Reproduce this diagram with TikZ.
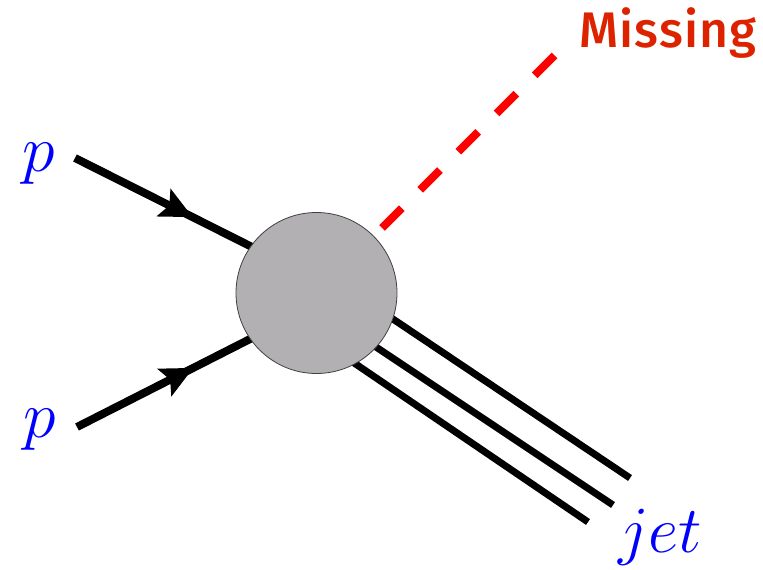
\RequirePackage{fix-cm}
\documentclass[tikz,border=0pt]{standalone}
\usepackage{fontspec}
\newfontfamily\missfont{Fira Sans Medium}
\usetikzlibrary{arrows.meta,decorations.markings}

\definecolor{missred}{RGB}{221,34,0}
\definecolor{blobgray}{RGB}{178,176,178}

\tikzset{
  fermion/.style={line width=8pt, postaction={decorate},
    decoration={markings, mark=at position 0.65 with {\arrow{Stealth[length=32pt,width=30pt,inset=6pt]}}}},
  jetline/.style={line width=7pt},
  missline/.style={line width=8pt, red, dash pattern=on 28pt off 26pt},
  plabel/.style={text=blue, font=\fontsize{66}{66}\selectfont, anchor=base, inner sep=0pt},
}

\begin{document}
\begin{tikzpicture}[x=1pt, y=-1pt]
  \useasboundingbox (0,0) rectangle (763,570);

  % incoming protons
  \coordinate (pa) at (75,158);
  \coordinate (pb) at (77,427);
  \coordinate (ina) at (256,249);
  \coordinate (inb) at (256,336);

  % jet and missing momentum
  \coordinate (ja) at (378,309);
  \coordinate (jb) at (361,337);
  \coordinate (jc) at (338,352);
  \coordinate (ka) at (630,478);
  \coordinate (kb) at (613,505);
  \coordinate (kc) at (588,522);
  \coordinate (ma) at (382,228);
  \coordinate (mb) at (558,52);

  \draw[fermion] (pa) -- (ina);
  \draw[fermion] (pb) -- (inb);

  \draw[jetline] (ja) -- (ka);
  \draw[jetline] (jb) -- (kb);
  \draw[jetline] (jc) -- (kc);

  \node[circle, draw=black!75, line width=0.8pt, fill=blobgray,
        minimum size=161pt, inner sep=0pt] (blob) at (316.5,293) {};

  \draw[missline] (ma) -- (mb);

  \node[plabel] (p1) at (39,171) {$p$};
  \node[plabel] (p2) at (40,437) {$p$};
  \node[plabel] (jet) at (660,552) {$jet$};
  \node[anchor=base west, inner sep=0pt, text=missred,
        font=\missfont\fontsize{50}{50}\selectfont] (miss) at (579,47) {M\kern1pt i\kern1pt s\kern1pt s\kern1pt i\kern1pt n\kern1pt g};
\end{tikzpicture}
\end{document}
